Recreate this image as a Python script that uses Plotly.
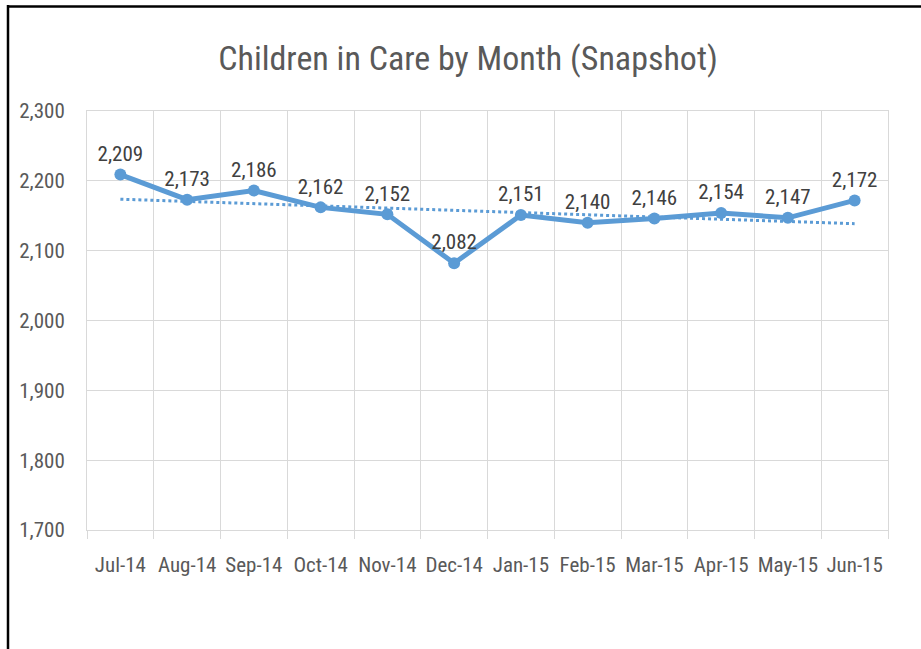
import numpy as np
import plotly.graph_objects as go

months = ["Jul-14", "Aug-14", "Sep-14", "Oct-14", "Nov-14", "Dec-14",
          "Jan-15", "Feb-15", "Mar-15", "Apr-15", "May-15", "Jun-15"]
children = [2209, 2173, 2186, 2162, 2152, 2082, 2151, 2140, 2146, 2154, 2147, 2172]
y_ticks = [1700, 1800, 1900, 2000, 2100, 2200, 2300]

BLUE = "#5B9BD5"
FONT = "Roboto Condensed, Liberation Sans Narrow, Roboto, sans-serif"

# linear trendline computed from the data
idx = np.arange(len(children))
slope, intercept = np.polyfit(idx, children, 1)
trend = slope * idx + intercept

fig = go.Figure()
fig.add_trace(go.Scatter(
    x=months, y=trend, mode="lines",
    line=dict(color=BLUE, width=3, dash="dot"),
    hoverinfo="skip", showlegend=False))
fig.add_trace(go.Scatter(
    x=months, y=children, mode="lines+markers+text",
    line=dict(color=BLUE, width=5),
    marker=dict(color=BLUE, size=12),
    text=[f"{v:,}" for v in children], textposition="top center",
    textfont=dict(size=21, color="#404040", family=FONT),
    showlegend=False))

fig.update_layout(
    width=921, height=649,
    margin=dict(l=87, r=33, t=111, b=119),
    paper_bgcolor="white", plot_bgcolor="white",
    font=dict(family=FONT, color="#595959"),
    title=dict(text="Children in Care by Month (Snapshot)",
               x=(468 - 87) / 801, xref="paper", xanchor="center",
               y=1 - 58 / 649, yanchor="middle",
               font=dict(size=34, color="#595959", family=FONT)),
)
fig.update_xaxes(
    type="category", tickson="boundaries", ticks="outside", ticklen=8,
    tickcolor="#d9d9d9", showgrid=True, gridcolor="#d9d9d9", gridwidth=1,
    showline=True, linecolor="#d9d9d9", mirror=True, tickangle=0,
    tickfont=dict(size=21, color="#595959"), ticklabelstandoff=16,
    range=[-0.5, 11.5])
fig.update_yaxes(
    range=[1700, 2300], tickvals=y_ticks, tickformat=",",
    showgrid=True, gridcolor="#d9d9d9", gridwidth=1,
    showline=True, linecolor="#d9d9d9", mirror=True, zeroline=False,
    tickfont=dict(size=21, color="#595959"), ticklabelstandoff=17)

# outer chart border (left and top edges visible)
px = lambda x: (x - 87) / 801
py = lambda y: (530 - y) / 419
fig.add_shape(type="line", xref="paper", yref="paper",
              x0=px(8), x1=px(8), y0=py(5), y1=py(660),
              line=dict(color="black", width=2.5))
fig.add_shape(type="line", xref="paper", yref="paper",
              x0=px(7), x1=px(930), y0=py(6.5), y1=py(6.5),
              line=dict(color="black", width=2.5))

fig.write_html("out.html", config={"displayModeBar": False},
               post_script="document.body.style.margin='0';")
